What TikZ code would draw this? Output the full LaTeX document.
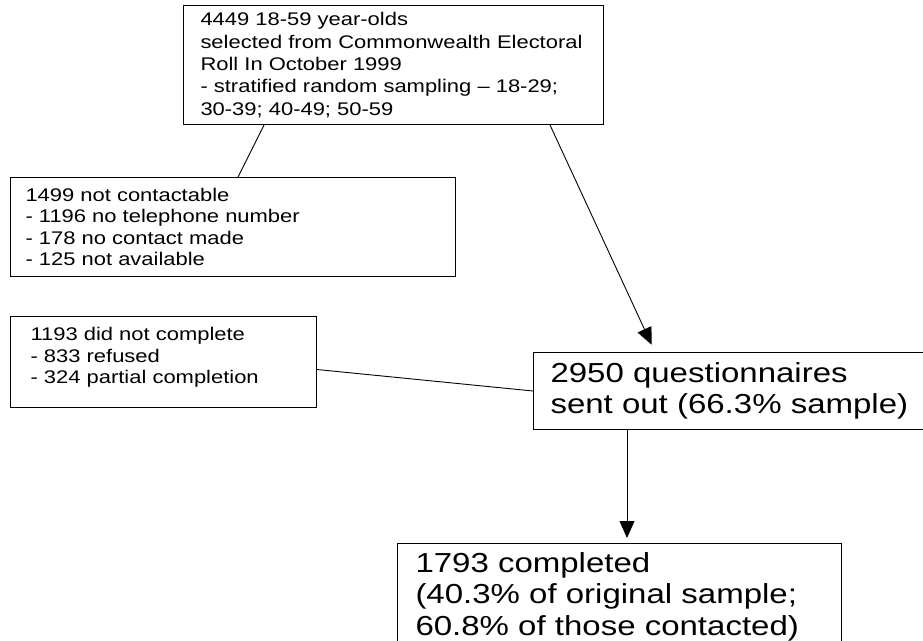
\documentclass[tikz,border=0pt]{standalone}
\usepackage{fontspec}
\newfontfamily\boxfont{Liberation Sans}[FakeStretch=1.2]
\usetikzlibrary{arrows.meta}

\begin{document}
\begin{tikzpicture}[x=1pt, y=-1pt,
        box/.style={draw, line width=1pt, anchor=north west, align=left, inner ysep=0pt},
        small/.style={font={\boxfont\fontsize{18.3}{21.5}\selectfont}},
        large/.style={font={\boxfont\fontsize{27.5}{31.5}\selectfont}},
        link/.style={line width=0.9pt},
        flow/.style={line width=0.9pt, -{Triangle[length=17pt, width=15pt]}}]
        \useasboundingbox (0,0) rectangle (923,640);

        % Add the boxes
        \node[box, small, font={\boxfont\fontsize{18.3}{22.3}\selectfont}, inner xsep=17pt,
              text width=386pt, minimum height=119pt] (roll) at (183,5)
            {4449 18-59 year-olds\\
             selected from Commonwealth Electoral\\
             Roll In October 1999\\
             - stratified random sampling – 18-29;\\
             30-39; 40-49; 50-59};
        \node[box, small, inner xsep=15pt, text width=415pt, minimum height=99pt] (nocontact) at (10,177)
            {1499 not contactable\\
             - 1196 no telephone number\\
             - 178 no contact made\\
             - 125 not available};
        \node[box, small, inner xsep=20pt, text width=266pt, minimum height=91pt,
              text depth=56pt] (notdone) at (10,316)
            {1193 did not complete\\
             - 833 refused\\
             - 324 partial completion};
        \node[box, large, inner xsep=17pt, text width=366pt, minimum height=77pt] (sent) at (533,352)
            {2950 questionnaires\\
             sent out (66.3\% sample)};
        \node[box, large, inner xsep=18pt, text width=408pt, minimum height=106pt] (done) at (397,543)
            {1793 completed\\
             (40.3\% of original sample;\\
             60.8\% of those contacted)};

        % Connect them
        \coordinate (drop) at ([xshift=94pt]sent.south west);
        \draw[link] ([xshift=81pt]roll.south west) -- ([xshift=228pt]nocontact.north west);
        \draw[flow, shorten >=8pt] ([xshift=367pt]roll.south west) -- ([xshift=122pt]sent.north west);
        \draw[link] ([yshift=-7.5pt]notdone.east) -- (sent.west);
        \draw[flow, shorten >=5pt] (drop) -- (drop |- done.north);
    \end{tikzpicture}
\end{document}
